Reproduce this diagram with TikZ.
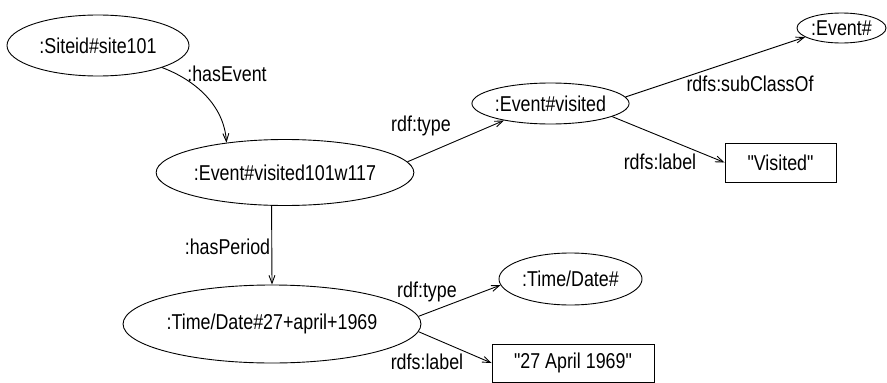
\documentclass[tikz,border=0pt]{standalone}
\usepackage{fontspec}
\setmainfont{Liberation Sans}[FakeStretch=0.83, Ligatures=TeXOff]
\usetikzlibrary{shapes.geometric,arrows.meta}
\begin{document}
\begin{tikzpicture}[x=1pt,y=1pt,
  every node/.style={font=\fontsize{21.5}{24}\selectfont, inner sep=0pt},
  ell/.style={draw, ellipse, line width=0.9pt},
  lit/.style={draw, rectangle, line width=0.9pt},
  edge/.style={line width=0.9pt, -{Straight Barb[length=8pt,width=6pt]}},
  lbl/.style={anchor=base}]
\useasboundingbox (0,0) rectangle (887,-383);
% nodes
\node[ell, minimum width=182pt, minimum height=61pt] (site) at (98,-45.5) {:Siteid\#site101};
\node[ell, minimum width=220pt, minimum height=66pt] (ev117) at (285,-172.5) {:Event\#visited101w117};
\node[ell, minimum width=142pt, minimum height=41pt] (evv) at (550.5,-103.5) {:Event\#visited};
\node[ell, minimum width=89pt, minimum height=30pt] (eventc) at (841.5,-28) {:Event\#};
\node[lit, minimum width=111pt, minimum height=39pt] (visited) at (780.5,-162.5) {"Visited"};
\node[ell, minimum width=246pt, minimum height=78pt] (td) at (272,-324) {:Time/Date\#27+april+1969};
\node[ell, minimum width=143pt, minimum height=52pt] (tdc) at (570.5,-279) {:Time/Date\#};
\node[lit, minimum width=162pt, minimum height=38pt] (date) at (573,-363) {"27 April 1969"};
% edges
\draw[edge] (site.-19) .. controls (195,-80) and (224,-105) .. (ev117.153);
\draw[edge] (ev117.5) -- (evv.200);
\draw[edge] (evv.5) -- (eventc.194);
\draw[edge] (evv.-12) -- (visited.west);
\draw[edge] (ev117.248.4) -- (td.north);
\draw[edge] (td.3) -- (tdc.185);
\draw[edge] (td.-3) -- (date.west);
% labels
\node[lbl] (l1) at (227,-81) {:hasEvent};
\node[lbl] (l2) at (421,-131) {rdf:type};
\node[lbl] (l3) at (750,-91) {rdfs:subClassOf};
\node[lbl] (l4) at (660,-169) {rdfs:label};
\node[lbl] (l5) at (227.5,-254) {:hasPeriod};
\node[lbl] (l6) at (427,-297) {rdf:type};
\node[lbl] (l7) at (427,-369) {rdfs:label};
\end{tikzpicture}
\end{document}
